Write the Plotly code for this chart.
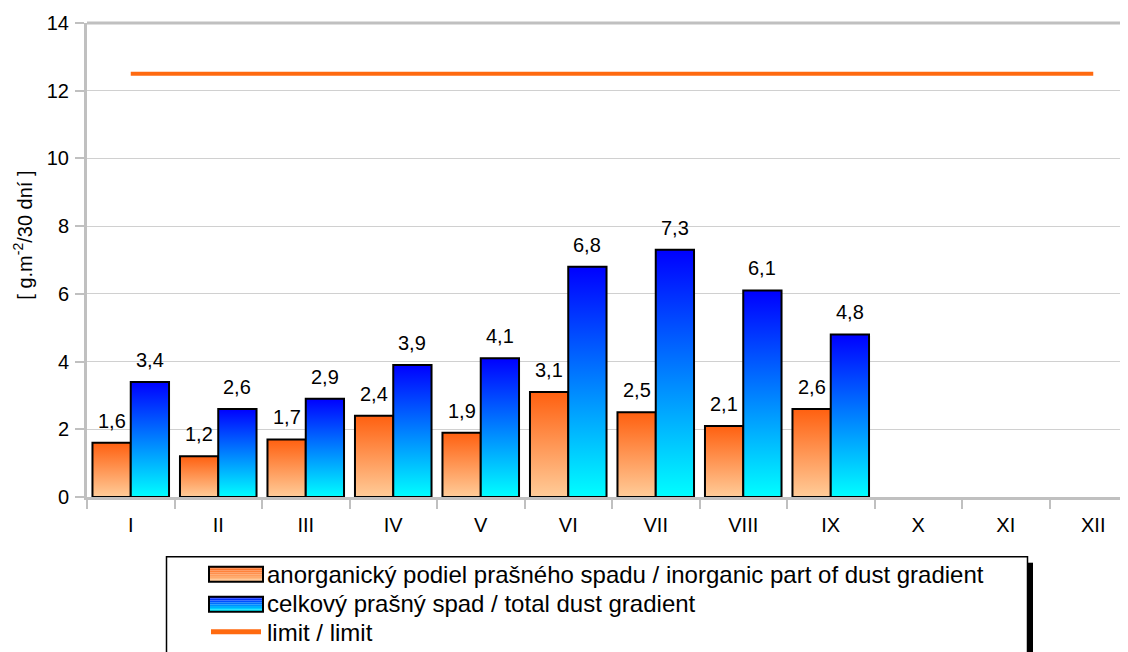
import plotly.graph_objects as go

months = ["I", "II", "III", "IV", "V", "VI", "VII", "VIII", "IX", "X", "XI", "XII"]
inorganic = [1.6, 1.2, 1.7, 2.4, 1.9, 3.1, 2.5, 2.1, 2.6]
total = [3.4, 2.6, 2.9, 3.9, 4.1, 6.8, 7.3, 6.1, 4.8]
limit_val = [12.5] * 12

name_inorg = "anorganický podiel prašného spadu / inorganic part of dust gradient"
name_total = "celkový prašný spad / total dust gradient"
name_limit = "limit / limit"
y_title = "[ g.m<sup>-2</sup>/30 dní ]"

ORANGE_TOP, ORANGE_BOT = "#FF6010", "#FFCC99"
BLUE_TOP, BLUE_BOT = "#0000FF", "#00FFFF"
LIMIT_COLOR = "#FF6A10"

# page has an 8px body margin: build the figure 8px smaller and shift coordinates
OFF = 8
W, H = 1128 - OFF, 652 - OFF
PAGE_L, PAGE_T, PAGE_B = 87, 23.3, 497.3
L, T = PAGE_L - OFF, PAGE_T - OFF
PH = PAGE_B - PAGE_T
B = H - T - PH
R = 0
PW = W - L - R
CAT_PX = 87.5
XR = [-0.5, -0.5 + PW / CAT_PX]
YR = [0, 14]

bar_w = 0.4375
font = "Liberation Sans, Arial, sans-serif"

fig = go.Figure()


def add_bar(xc, v, top, bot):
    x0, x1 = xc - bar_w / 2, xc + bar_w / 2
    fig.add_trace(go.Scatter(
        x=[x0, x0, x1, x1, x0], y=[0, v, v, 0, 0],
        mode="lines", fill="toself",
        fillgradient=dict(type="vertical", colorscale=[[0, bot], [1, top]],
                          start=0, stop=v),
        line=dict(color="black", width=2),
        hoverinfo="skip", showlegend=False,
    ))


for i, v in enumerate(inorganic):
    add_bar(i - bar_w / 2, v, ORANGE_TOP, ORANGE_BOT)
for i, v in enumerate(total):
    add_bar(i + bar_w / 2, v, BLUE_TOP, BLUE_BOT)

# limit line
fig.add_trace(go.Scatter(
    x=list(range(len(months))), y=limit_val, mode="lines",
    line=dict(color=LIMIT_COLOR, width=4), showlegend=False, hoverinfo="skip",
))

# data labels
annotations = []
for series, off in ((inorganic, -bar_w / 2), (total, bar_w / 2)):
    for i, v in enumerate(series):
        annotations.append(dict(
            x=i + off, y=v, xref="x", yref="y", text=f"{v:.1f}".replace(".", ","),
            showarrow=False, yanchor="bottom", yshift=9,
            font=dict(family=font, size=20, color="black"),
        ))


def px_x(p):  # page pixel -> paper
    return (p - OFF - L) / PW


def px_y(p):
    return (PAGE_B - p) / PH


shapes = []
# top border of plot area
shapes.append(dict(type="line", xref="paper", yref="paper", x0=0, x1=1, y0=1, y1=1,
                   line=dict(color="#C0C0C0", width=3)))
# legend shadow and box
shapes.append(dict(type="rect", xref="paper", yref="paper",
                   x0=px_x(1027), x1=px_x(1033), y0=px_y(665), y1=px_y(563),
                   fillcolor="black", line=dict(width=0)))
shapes.append(dict(type="rect", xref="paper", yref="paper",
                   x0=px_x(166.5), x1=px_x(1027.5), y0=px_y(665), y1=px_y(557),
                   fillcolor="white", line=dict(color="black", width=1.5)))


def hex_to_rgb(h):
    h = h.lstrip("#")
    return tuple(int(h[k:k + 2], 16) for k in (0, 2, 4))


def swatch(y_top, y_bot, top, bot, n=8):
    ct, cb = hex_to_rgb(top), hex_to_rgb(bot)
    hh = (y_bot - y_top) / n
    for k in range(n):
        t = (k + 0.5) / n
        c = tuple(round(ct[j] + (cb[j] - ct[j]) * t) for j in range(3))
        shapes.append(dict(type="rect", xref="paper", yref="paper",
                           x0=px_x(209), x1=px_x(263),
                           y0=px_y(y_top + hh * (k + 1)), y1=px_y(y_top + hh * k),
                           fillcolor=f"rgb{c}", line=dict(width=0)))
    shapes.append(dict(type="rect", xref="paper", yref="paper",
                       x0=px_x(209), x1=px_x(263), y0=px_y(y_bot), y1=px_y(y_top),
                       line=dict(color="black", width=2)))


swatch(567, 582, ORANGE_TOP, ORANGE_BOT)
swatch(597, 612, BLUE_TOP, BLUE_BOT)
shapes.append(dict(type="line", xref="paper", yref="paper",
                   x0=px_x(211), x1=px_x(261), y0=px_y(632), y1=px_y(632),
                   line=dict(color=LIMIT_COLOR, width=5)))

for txt, yc in ((name_inorg, 575), (name_total, 604), (name_limit, 633)):
    annotations.append(dict(
        x=px_x(265), y=px_y(yc), xref="paper", yref="paper", text=txt,
        showarrow=False, xanchor="left", yanchor="middle",
        font=dict(family=font, size=24, color="black"),
    ))

# y-axis title
annotations.append(dict(
    x=px_x(23), y=px_y(236), xref="paper", yref="paper", text=y_title,
    showarrow=False, textangle=-90, xanchor="center", yanchor="middle",
    font=dict(family=font, size=20, color="black"),
))

fig.update_layout(
    width=W, height=H,
    margin=dict(l=L, r=R, t=T, b=B, pad=0),
    paper_bgcolor="white", plot_bgcolor="white",
    font=dict(family=font, size=19, color="black"),
    showlegend=False,
    annotations=annotations,
    shapes=shapes,
    xaxis=dict(
        range=XR, tickmode="array", tickvals=list(range(len(months))), ticktext=months,
        ticks="", showgrid=False, zeroline=False,
        showline=True, linecolor="#C0C0C0", linewidth=3,
        minor=dict(tickmode="array", tickvals=[i - 0.5 for i in range(len(months) + 1)],
                   ticks="outside", ticklen=9, tickwidth=2, tickcolor="#C0C0C0",
                   showgrid=False),
        tickfont=dict(family=font, size=20), ticklabelstandoff=8,
        fixedrange=True,
    ),
    yaxis=dict(
        range=YR, dtick=2, tick0=0, showgrid=True, gridcolor="#D0D0D0", gridwidth=1,
        zeroline=False, showline=True, linecolor="#C0C0C0", linewidth=3,
        ticks="outside", ticklen=9, tickwidth=2, tickcolor="#C0C0C0",
        tickfont=dict(family=font, size=20), ticklabelstandoff=2,
        fixedrange=True,
    ),
)

fig.write_html("out.html")
